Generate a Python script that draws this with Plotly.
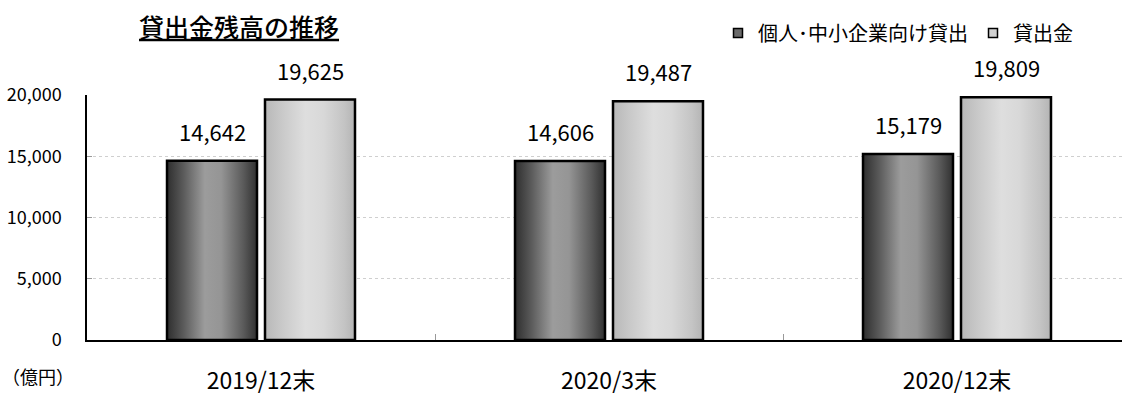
import plotly.graph_objects as go

# ---- data ----
categories = ["2019/12末", "2020/3末", "2020/12末"]
series_names = ["個人･中小企業向け貸出", "貸出金"]
personal_sme = [14642, 14606, 15179]
total_loans = [19625, 19487, 19809]
y_tickvals = [0, 5000, 10000, 15000, 20000]

FONT = "Noto Sans CJK JP"

# ---- geometry (in category units) ----
bar_w = 0.2586
gap = 0.023
offsets = [-(gap / 2 + bar_w / 2), gap / 2 + bar_w / 2]
gradients = [
    [[0, "#2e2e2e"], [0.18, "#5a5a5a"], [0.42, "#9c9c9c"], [0.6, "#959595"], [0.85, "#5a5a5a"], [1, "#303030"]],
    [[0, "#b8b8b8"], [0.2, "#cacaca"], [0.45, "#dedede"], [0.65, "#d8d8d8"], [0.88, "#c4c4c4"], [1, "#b4b4b4"]],
]
legend_fill = ["#6a6a6a", "#d0d0d0"]

fig = go.Figure()
annotations = []
for s, values in enumerate([personal_sme, total_loans]):
    for i, v in enumerate(values):
        xc = i + offsets[s]
        x0, x1 = xc - bar_w / 2, xc + bar_w / 2
        fig.add_trace(go.Scatter(
            x=[x0, x0, x1, x1, x0], y=[0, v, v, 0, 0],
            mode="lines", fill="toself",
            fillgradient=dict(type="horizontal", colorscale=gradients[s]),
            line=dict(color="#000000", width=2.5),
            showlegend=False, hoverinfo="skip",
        ))
        annotations.append(dict(
            x=xc, y=v, xref="x", yref="y", text=f"{v:,}", showarrow=False,
            yanchor="bottom", yshift=12, font=dict(family=FONT, size=22, color="#000000"),
        ))
    # legend entry
    fig.add_trace(go.Scatter(
        x=[None], y=[None], mode="markers", name=series_names[s],
        marker=dict(symbol="square", size=9, color=legend_fill[s], line=dict(color="#000000", width=1.5)),
    ))

# axis unit label
annotations.append(dict(
    x=(0 - 87) / 1035, y=(346 - 383) / 251, xref="paper", yref="paper",
    text="（億円）", showarrow=False, xanchor="left", yanchor="middle",
    font=dict(family=FONT, size=18, color="#000000"),
))

fig.update_layout(
    width=1122, height=396,
    margin=dict(l=87, r=0, t=95, b=50),
    paper_bgcolor="#ffffff", plot_bgcolor="#ffffff",
    font=dict(family=FONT, color="#000000"),
    title=dict(
        text="<u>貸出金残高の推移</u>",
        x=139 / 1122, xanchor="left", xref="container",
        y=1 - 28 / 396, yanchor="middle", yref="container",
        font=dict(family=FONT, size=25, color="#000000", weight=500),
    ),
    showlegend=True,
    legend=dict(
        orientation="h", x=1 - 44 / 1035, xanchor="right", xref="paper",
        y=1 - 33 / 396, yanchor="middle", yref="container",
        font=dict(family=FONT, size=20, color="#000000"),
        bgcolor="rgba(0,0,0,0)", itemwidth=30,
    ),
    xaxis=dict(
        range=[-0.5, -0.5 + 1035 / 348],
        tickmode="array", tickvals=list(range(len(categories))), ticktext=categories,
        ticks="", showgrid=False, zeroline=False,
        showline=True, linecolor="#000000", linewidth=1.5,
        tickfont=dict(family=FONT, size=23, color="#000000"),
        ticklabelstandoff=20,
        minor=dict(tickmode="array", tickvals=[0.5, 1.5, 2.5], ticks="inside", ticklen=6,
                   tickcolor="#999999", tickwidth=1, showgrid=False),
        fixedrange=True,
    ),
    yaxis=dict(
        range=[0, 20000], tickmode="array", tickvals=y_tickvals, tickformat=",",
        ticks="inside", ticklen=5, tickcolor="#999999",
        showgrid=True, gridcolor="#cfcfcf", griddash="dot", gridwidth=1,
        zeroline=False, showline=True, linecolor="#000000", linewidth=1.5,
        tickfont=dict(family=FONT, size=18, color="#000000"),
        ticklabelstandoff=20,
        fixedrange=True,
    ),
    annotations=annotations,
)

fig.write_html("out.html")
